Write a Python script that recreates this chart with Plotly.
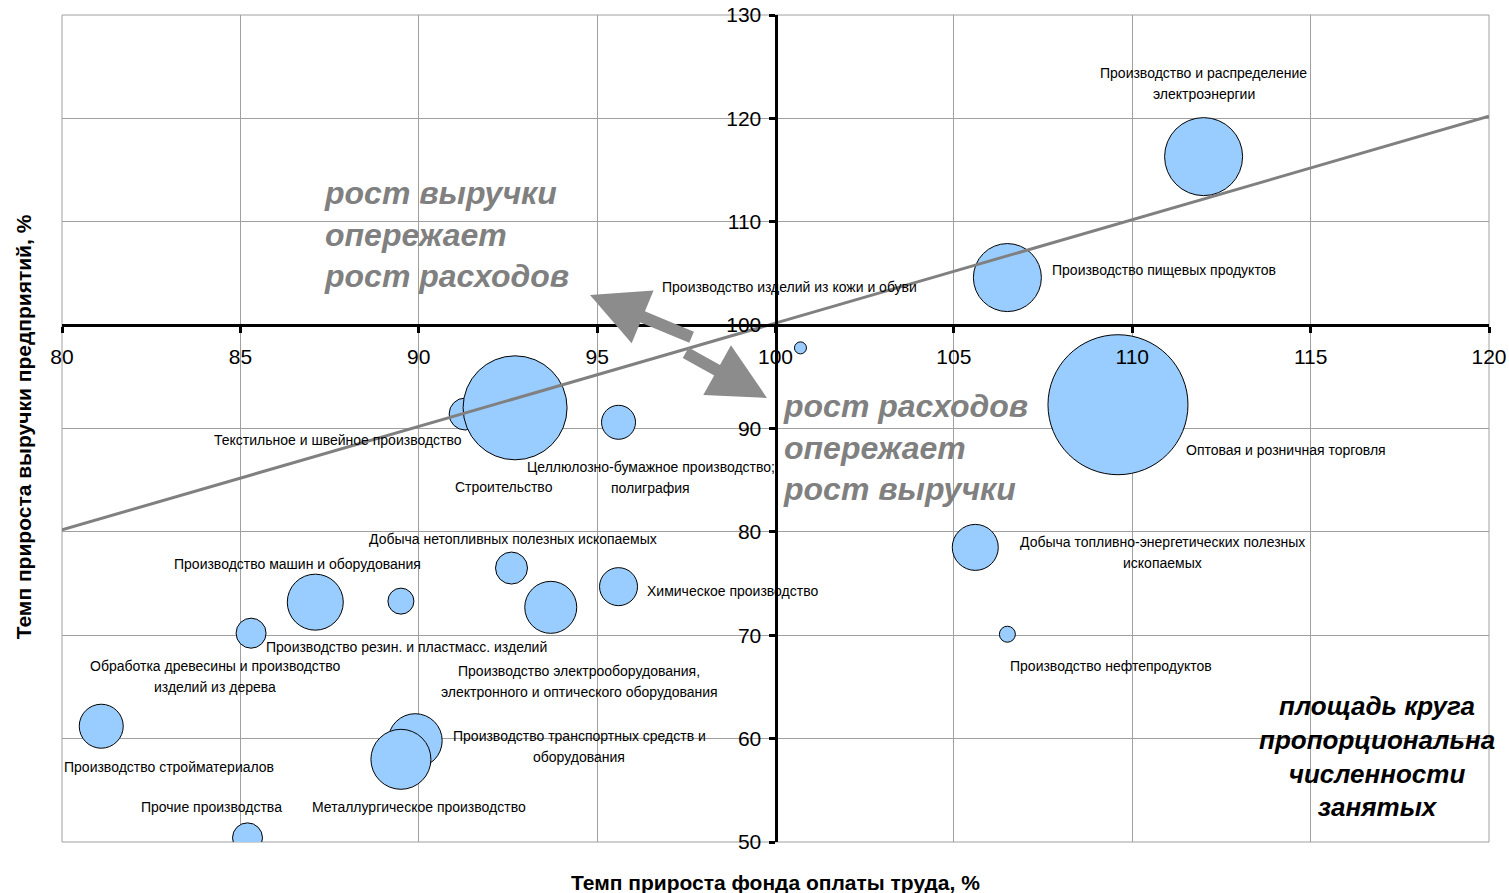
import plotly.graph_objects as go

# ---------------- data ----------------
industries = [
    "Производство и распределение<br>электроэнергии",
    "Производство пищевых продуктов",
    "Оптовая и розничная торговля",
    "Производство изделий из кожи и обуви",
    "Текстильное и швейное производство",
    "Строительство",
    "Целлюлозно-бумажное производство;<br>полиграфия",
    "Добыча топливно-энергетических полезных<br>ископаемых",
    "Производство нефтепродуктов",
    "Добыча нетопливных полезных ископаемых",
    "Производство машин и оборудования",
    "Производство резин. и пластмасс. изделий",
    "Производство электрооборудования,<br>электронного и оптического оборудования",
    "Химическое производство",
    "Обработка древесины и производство<br>изделий из дерева",
    "Производство стройматериалов",
    "Производство транспортных средств и<br>оборудования",
    "Металлургическое производство",
    "Прочие производства",
]
wage_fund_growth = [112.0, 106.5, 109.6, 100.7, 91.3, 92.7, 95.6, 105.6, 106.5, 92.6,
                    87.1, 89.5, 93.7, 95.6, 85.3, 81.1, 89.9, 89.5, 85.2]
revenue_growth = [116.3, 104.6, 92.3, 97.8, 91.4, 92.0, 90.6, 78.5, 70.1, 76.5,
                  73.2, 73.3, 72.7, 74.7, 70.2, 61.2, 59.8, 58.0, 50.4]
employment = [1521, 1156, 4900, 36, 256, 2704, 289, 529, 64, 256,
              784, 169, 676, 361, 225, 484, 729, 900, 225]

trend_x = [80, 120]
trend_y = [80.2, 120.2]

x_ticks = [80, 85, 90, 95, 100, 105, 110, 115, 120]
y_ticks = [50, 60, 70, 80, 90, 100, 110, 120, 130]

# label anchor positions (layout only)
label_pos = [
    (112.0, 123.4), (110.9, 105.3), (114.3, 87.9), (100.4, 103.7), (87.74, 88.9),
    (92.4, 84.35), (96.5, 85.3), (110.86, 78.0), (109.4, 67.0), (92.64, 79.3),
    (86.6, 76.9), (89.67, 68.9), (94.5, 65.55), (98.8, 74.3), (84.3, 66.03),
    (83.0, 57.3), (94.5, 59.25), (90.0, 53.4), (84.2, 53.4),
]

FONT = "Arial, 'Liberation Sans', sans-serif"

fig = go.Figure()

fig.add_trace(go.Scatter(
    x=wage_fund_growth, y=revenue_growth, mode="markers",
    marker=dict(size=employment, sizemode="area", sizeref=0.5,
                color="#99CCFF", opacity=1,
                line=dict(color="black", width=1)),
    hoverinfo="text", text=industries, showlegend=False,
))

fig.add_trace(go.Scatter(
    x=trend_x, y=trend_y, mode="lines",
    line=dict(color="#808080", width=3), showlegend=False, hoverinfo="skip",
))

annotations = []
LINE_H = 21
for name, (lx, ly) in zip(industries, label_pos):
    lines = name.split("<br>")
    n = len(lines)
    for i, ln in enumerate(lines):
        shift = ((n - 1) / 2 - i) * LINE_H
        annotations.append(dict(
            x=lx, y=ly, xref="x", yref="y", text=ln, showarrow=False,
            xanchor="center", yanchor="middle", yshift=shift,
            font=dict(family=FONT, size=14, color="black"),
        ))

# big italic captions
annotations.append(dict(
    x=87.3, y=108.8, xref="x", yref="y",
    text="<b><i>рост выручки<br>опережает<br>рост расходов</i></b>",
    showarrow=False, xanchor="left", yanchor="middle", align="left",
    font=dict(family=FONT, size=32, color="#808080"),
))
annotations.append(dict(
    x=100.15, y=88.2, xref="x", yref="y",
    text="<b><i>рост расходов<br>опережает<br>рост выручки</i></b>",
    showarrow=False, xanchor="left", yanchor="middle", align="left",
    font=dict(family=FONT, size=32, color="#808080"),
))
annotations.append(dict(
    x=116.85, y=58.3, xref="x", yref="y",
    text="<b><i>площадь круга<br>пропорциональна<br>численности<br>занятых</i></b>",
    showarrow=False, xanchor="center", yanchor="middle", align="center",
    font=dict(family=FONT, size=26, color="black"),
))

# arrows
annotations.append(dict(
    x=94.80, y=102.92, ax=97.69, ay=98.76, xref="x", yref="y", axref="x", ayref="y",
    text="", showarrow=True, arrowhead=2, arrowsize=0.95, arrowwidth=12,
    arrowcolor="#8C8C8C", standoff=0, startstandoff=0,
))
annotations.append(dict(
    x=99.76, y=92.96, ax=97.44, ay=97.41, xref="x", yref="y", axref="x", ayref="y",
    text="", showarrow=True, arrowhead=2, arrowsize=0.95, arrowwidth=12,
    arrowcolor="#8C8C8C", standoff=0, startstandoff=0,
))

# axis titles
annotations.append(dict(
    x=0.5, y=-0.033, xref="paper", yref="paper", yanchor="top",
    text="<b>Темп прироста фонда оплаты труда, %</b>", showarrow=False,
    font=dict(family=FONT, size=21, color="black"),
))
annotations.append(dict(
    x=-0.027, y=0.502, xref="paper", yref="paper", xanchor="center", yanchor="middle",
    text="<b>Темп прироста выручки предприятий, %</b>", showarrow=False, textangle=-90,
    font=dict(family=FONT, size=21, color="black"),
))

fig.update_layout(
    width=1509, height=893,
    margin=dict(l=62, r=20, t=15, b=51, autoexpand=False),
    paper_bgcolor="white", plot_bgcolor="white",
    font=dict(family=FONT, size=14, color="black"),
    annotations=annotations,
    shapes=[dict(type="rect", xref="paper", yref="paper", x0=0, y0=0, x1=1, y1=1,
                 line=dict(color="#A0A0A0", width=1), layer="below")],
    xaxis=dict(range=[80, 120], tickvals=x_ticks, ticktext=[str(v) for v in x_ticks],
               anchor="free", position=0.625, showline=True, linecolor="black",
               linewidth=3, ticks="outside", ticklen=6, tickwidth=3, tickcolor="black",
               showgrid=True, gridcolor="#A0A0A0", gridwidth=1, zeroline=False,
               automargin=False, ticklabelstandoff=6,
               tickfont=dict(family=FONT, size=21, color="black")),
    yaxis=dict(range=[50, 130], tickvals=y_ticks, ticktext=[str(v) for v in y_ticks],
               anchor="free", position=0.5, showline=True, linecolor="black",
               linewidth=3, ticks="outside", ticklen=6, tickwidth=3, tickcolor="black",
               showgrid=True, gridcolor="#A0A0A0", gridwidth=1, zeroline=False,
               automargin=False, ticklabelstandoff=3,
               tickfont=dict(family=FONT, size=21, color="black")),
)

fig.write_html("out.html", config={"displayModeBar": False},
               post_script="document.body.style.margin='0';")
